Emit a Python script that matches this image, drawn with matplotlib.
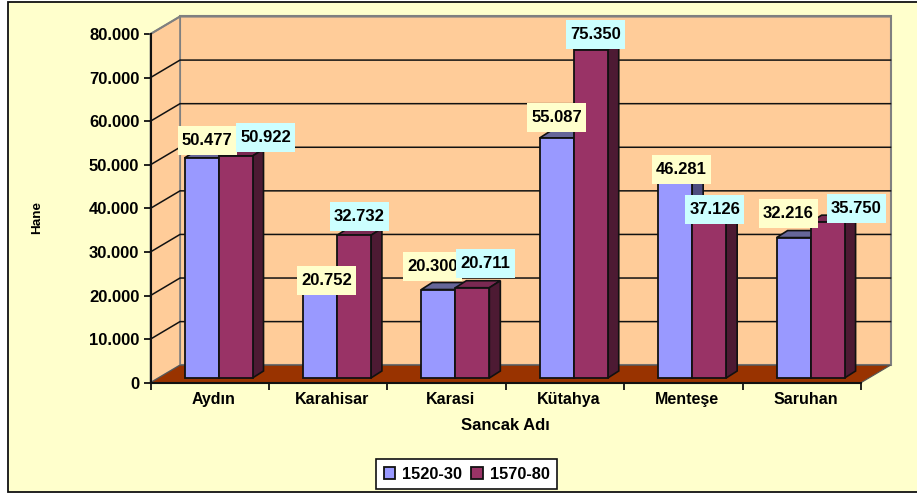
import matplotlib
matplotlib.use("Agg")
import matplotlib.pyplot as plt
from matplotlib.patches import Rectangle
from matplotlib.path import Path
from matplotlib.ticker import FuncFormatter

plt.rcParams['font.family'] = ['Liberation Sans', 'DejaVu Sans']
plt.rcParams['font.weight'] = 'bold'

sancak = ["Aydın", "Karahisar", "Karasi", "Kütahya", "Menteşe", "Saruhan"]
hane_1520 = [50477, 20752, 20300, 55087, 46281, 32216]
hane_1570 = [50922, 32732, 20711, 75350, 37126, 35750]
y_ticks = [0, 10000, 20000, 30000, 40000, 50000, 60000, 70000, 80000]

# label offsets from the top of each bar, in pixels
off_1520 = [(5.5, 17), (6.5, 7.5), (-6, 23.5), (0, 20), (6, 6.5), (-5.5, 24)]
off_1570 = [(30, 19), (5.5, 19), (13, 24), (4.5, 15.5), (5.5, 6.5), (28.5, 13.5)]

W, H = 917, 494
LEFT, RIGHT, TOP, BOTTOM = 150.5, 861, 34, 382.7

# fake 3d depth, data units
xu = (RIGHT - LEFT) / 6
yu = 80000 / (BOTTOM - TOP)
wall_dx = 29.5 / xu
wall_dy = 17.5 * yu
bar_dx = 11 / xu
bar_dy = 7 * yu
bar_base = 4.7 * yu
bar_w = 34 / xu
bar_start = (184.5 - LEFT) / xu

WALL = "#FFCC99"
FLOOR = "#993300"
BLUE, BLUE_TOP, BLUE_SIDE = "#9999FF", "#666699", "#4D4D80"
RED, RED_TOP, RED_SIDE = "#993366", "#7A2952", "#4D1A33"


def label_box(x0, y0, w, h, mutation_size):
    # data labels all have the same 59x29 px box
    cx, cy = x0 + w / 2, y0 + h / 2
    return Path([(cx - 29.5, cy - 14.5), (cx + 29.5, cy - 14.5), (cx + 29.5, cy + 14.5),
                 (cx - 29.5, cy + 14.5), (cx - 29.5, cy - 14.5)], closed=True)


fig = plt.figure(figsize=(W / 100, H / 100), dpi=100, facecolor="white")
fig.add_artist(Rectangle((8 / W, 2 / H), 1.0, 490 / H, transform=fig.transFigure,
                         facecolor="#FFFFCC", edgecolor="#111111", linewidth=1.3, zorder=-1))

ax = fig.add_axes([LEFT / W, 1 - BOTTOM / H, (RIGHT - LEFT) / W, (BOTTOM - TOP) / H])
ax.patch.set_alpha(0)
ax.set_xlim(0, 6)
ax.set_ylim(0, 80000)

# back wall, side wall, floor
ax.fill([wall_dx, 6 + wall_dx, 6 + wall_dx, wall_dx],
        [wall_dy, wall_dy, 80000 + wall_dy, 80000 + wall_dy],
        facecolor=WALL, edgecolor="#808080", linewidth=1.5, clip_on=False, zorder=1)
ax.fill([0, wall_dx, wall_dx, 0], [0, wall_dy, 80000 + wall_dy, 80000],
        facecolor=WALL, edgecolor="#808080", linewidth=1.2, clip_on=False, zorder=1)
ax.fill([0, wall_dx, 6 + wall_dx, 6], [0, wall_dy, wall_dy, 0],
        facecolor=FLOOR, edgecolor="#555555", linewidth=0.8, clip_on=False, zorder=1.5)

for v in y_ticks[1:-1]:
    ax.plot([0, wall_dx, 6 + wall_dx], [v, v + wall_dy, v + wall_dy],
            color="#111111", linewidth=1.1, clip_on=False, zorder=2)
ax.plot([0, wall_dx, 6 + wall_dx], [80000, 80000 + wall_dy, 80000 + wall_dy],
        color="#808080", linewidth=1.5, clip_on=False, zorder=2)


def draw_bar(x, v, face, top, side, z):
    y1 = bar_base + v
    ax.fill([x, x + bar_dx, x + bar_w + bar_dx, x + bar_w],
            [y1, y1 + bar_dy, y1 + bar_dy, y1],
            facecolor=top, edgecolor="#111111", linewidth=1.2, clip_on=False, zorder=z)
    ax.fill([x + bar_w, x + bar_w + bar_dx, x + bar_w + bar_dx, x + bar_w],
            [bar_base, bar_base + bar_dy, y1 + bar_dy, y1],
            facecolor=side, edgecolor="#111111", linewidth=1.2, clip_on=False, zorder=z)
    return ax.bar(x, v, bar_w, bottom=bar_base, align="edge", color=face,
                  edgecolor="#111111", linewidth=1.3, zorder=z + 0.1, clip_on=False)


h1 = h2 = None
for i in range(6):
    x0 = i + bar_start
    h1 = draw_bar(x0, hane_1520[i], BLUE, BLUE_TOP, BLUE_SIDE, 3 + i)
    h2 = draw_bar(x0 + bar_w, hane_1570[i], RED, RED_TOP, RED_SIDE, 3.3 + i)

for i in range(6):
    x0 = i + bar_start
    ax.annotate(f"{hane_1520[i] / 1000:.3f}", (x0 + bar_w / 2, bar_base + hane_1520[i]),
                xytext=off_1520[i], textcoords="offset pixels", ha="center", va="center",
                fontsize=12, annotation_clip=False, zorder=20,
                bbox=dict(boxstyle=label_box, facecolor="#FFFFCC", edgecolor="none"))
    ax.annotate(f"{hane_1570[i] / 1000:.3f}", (x0 + 1.5 * bar_w, bar_base + hane_1570[i]),
                xytext=off_1570[i], textcoords="offset pixels", ha="center", va="center",
                fontsize=12, annotation_clip=False, zorder=21,
                bbox=dict(boxstyle=label_box, facecolor="#CCFFFF", edgecolor="none"))

for s in ["top", "right"]:
    ax.spines[s].set_visible(False)
for s in ["left", "bottom"]:
    ax.spines[s].set_linewidth(1.5)
    ax.spines[s].set_color("#111111")
    ax.spines[s].set_zorder(15)

ax.set_yticks(y_ticks)
ax.yaxis.set_major_formatter(FuncFormatter(lambda v, p: "0" if v == 0 else f"{v / 1000:.3f}"))
ax.set_xticks(range(7))
ax.set_xticklabels([])
ax.set_xticks([i + 0.53 for i in range(6)], sancak, minor=True)
ax.tick_params(axis="x", which="minor", length=0, pad=7, labelsize=11.5)
ax.tick_params(axis="x", which="major", length=5, width=1.3, color="#111111")
ax.tick_params(axis="y", length=5, width=1.3, color="#111111", labelsize=12, pad=3)

fig.text(505 / W, 1 - 425 / H, "Sancak Adı", ha="center", va="center", fontsize=12)
fig.text(37 / W, 1 - 217 / H, "Hane", ha="center", va="center", rotation=90, fontsize=9.7)

leg = fig.legend([h1, h2], ["1520-30", "1570-80"], ncol=2, loc="center",
                 bbox_to_anchor=(466.5 / W, 1 - 474 / H), fontsize=11.8, fancybox=False,
                 edgecolor="#111111", facecolor="white", framealpha=1, handlelength=0.7,
                 handleheight=0.7, handletextpad=0.4, columnspacing=0.6, borderpad=0.45)
leg.get_frame().set_linewidth(1.2)

fig.savefig("out.png", dpi=100)
